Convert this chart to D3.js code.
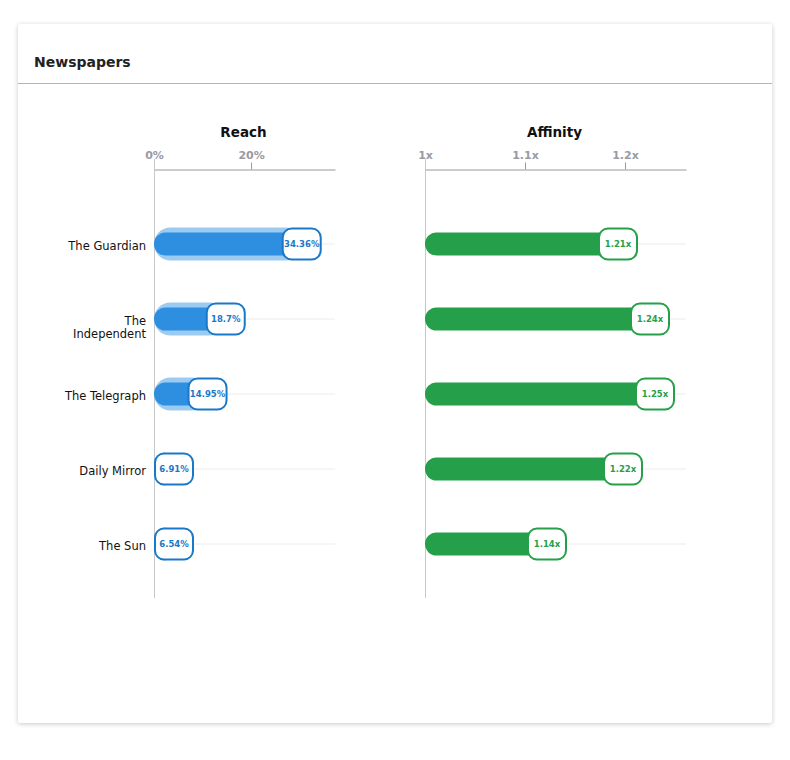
<!DOCTYPE html>
<html><head><meta charset="utf-8">
<script src="https://cdn.jsdelivr.net/npm/d3@7"></script>
<style>
html,body{margin:0;padding:0;background:#fff;font-family:"DejaVu Sans",sans-serif;}
#card{position:absolute;left:18px;top:24px;width:754px;height:699px;background:#fff;box-shadow:0 1px 5px rgba(0,0,0,0.22);border-radius:2px;}
svg{position:absolute;left:0;top:0;}
</style></head>
<body>
<div id="card"></div>
<svg id="chart" width="790" height="760"></svg>
<script>
const title = "Newspapers";
const categories = ["The Guardian", "The Independent", "The Telegraph", "Daily Mirror", "The Sun"];
const reachValues = [34.36, 18.7, 14.95, 6.91, 6.54];
const affinityValues = [1.212, 1.244, 1.249, 1.217, 1.141];
const reachTicks = [0, 20];
const reachTickLabels = ["0%", "20%"];
const affinityTicks = [1, 1.1, 1.2];
const affinityTickLabels = ["1x", "1.1x", "1.2x"];
const reachLabels = ["34.36%", "18.7%", "14.95%", "6.91%", "6.54%"];
const affinityLabels = ["1.21x", "1.24x", "1.25x", "1.22x", "1.14x"];

const svg = d3.select("#chart");
svg.append("text").attr("x", 34).attr("y", 67).text(title)
  .attr("font-size", 14).attr("font-weight", "bold").attr("fill", "#222");
svg.append("line").attr("x1", 18).attr("x2", 772).attr("y1", 83.5).attr("y2", 83.5)
  .attr("stroke", "#b5b5b5").attr("stroke-width", 1);

const y = d3.scaleBand().domain(categories).range([206.5, 581.5]).padding(0);
const axisTop = 169, axisBottom = 598;
const labelW = 38, labelH = 31;

function panel(opts) {
  const g = svg.append("g");
  const x = opts.x;
  const [r0, r1] = x.range();
  g.append("text").attr("x", (r0 + r1) / 2 - 1).attr("y", 137).attr("text-anchor", "middle")
    .attr("font-size", 13.5).attr("font-weight", "bold").attr("fill", "#111").text(opts.title);
  g.selectAll("line.grid").data(categories).join("line")
    .attr("x1", r0).attr("x2", r1)
    .attr("y1", d => y(d) + y.bandwidth() / 2).attr("y2", d => y(d) + y.bandwidth() / 2)
    .attr("stroke", "#ececec").attr("stroke-width", 1);
  const ax = g.append("g").attr("transform", `translate(0,${axisTop + 0.5})`)
    .call(d3.axisTop(x).tickValues(opts.ticks).tickSize(7).tickSizeOuter(0)
      .tickFormat((d, i) => opts.tickLabels[i]));
  ax.select(".domain").attr("stroke", "#999");
  ax.selectAll(".tick line").attr("stroke", "#999");
  ax.selectAll(".tick text").attr("fill", "#9a9aa2").attr("font-size", 11)
    .attr("font-weight", "bold").attr("font-family", "DejaVu Sans, sans-serif").attr("dy", "0").attr("y", -11);
  g.append("line").attr("x1", r0 + 0.5).attr("x2", r0 + 0.5).attr("y1", axisTop - 10).attr("y2", axisBottom)
    .attr("stroke", "#c8c8c8");
  const rows = g.selectAll("g.row").data(categories).join("g")
    .attr("transform", d => `translate(0,${y(d) + y.bandwidth() / 2})`);
  rows.each(function (d, i) {
    const row = d3.select(this);
    const v = opts.values[i];
    const xe = x(v);
    const bx = Math.max(r0 + 1, xe - labelW);
    const barEnd = bx + labelW / 2;
    if (opts.light) {
      row.append("rect").attr("x", r0).attr("y", -16.5).attr("height", 33)
        .attr("width", Math.max(0, barEnd - r0)).attr("rx", 16.5).attr("fill", opts.light);
    }
    row.append("rect").attr("x", r0).attr("y", -11.5).attr("height", 23)
      .attr("width", Math.max(0, barEnd - r0)).attr("rx", 11.5).attr("fill", opts.color);
    row.append("rect").attr("x", bx).attr("y", -labelH / 2).attr("width", labelW).attr("height", labelH)
      .attr("rx", 9).attr("fill", "#fff").attr("stroke", opts.stroke).attr("stroke-width", 2);
    row.append("text").attr("x", bx + labelW / 2).attr("y", 0).attr("dy", "0.35em")
      .attr("text-anchor", "middle").attr("font-size", 8.5).attr("font-weight", "bold")
      .attr("fill", opts.stroke).text(opts.labels[i]);
  });
  return g;
}

panel({ x: d3.scaleLinear().domain([0, 37.3]).range([154, 335]), title: "Reach",
  ticks: reachTicks, tickLabels: reachTickLabels, values: reachValues, labels: reachLabels,
  color: "#2e8fe0", light: "#9ccbf2", stroke: "#1a78c8" });
panel({ x: d3.scaleLinear().domain([1, 1.261]).range([425, 686]), title: "Affinity",
  ticks: affinityTicks, tickLabels: affinityTickLabels, values: affinityValues, labels: affinityLabels,
  color: "#259f4a", light: null, stroke: "#259f4a" });

const cat = svg.append("g");
categories.forEach((c, i) => {
  const cy = y(c) + y.bandwidth() / 2;
  const t = cat.append("text").attr("x", 146).attr("y", cy).attr("text-anchor", "end")
    .attr("font-size", 11.5).attr("fill", "#111");
  const lines = c === "The Independent" ? ["The", "Independent"] : [c];
  lines.forEach((l, j) => {
    t.append("tspan").attr("x", 146).attr("dy", j === 0 ? "0.48em" : "1.15em").text(l);
  });
});
</script>
</body></html>
